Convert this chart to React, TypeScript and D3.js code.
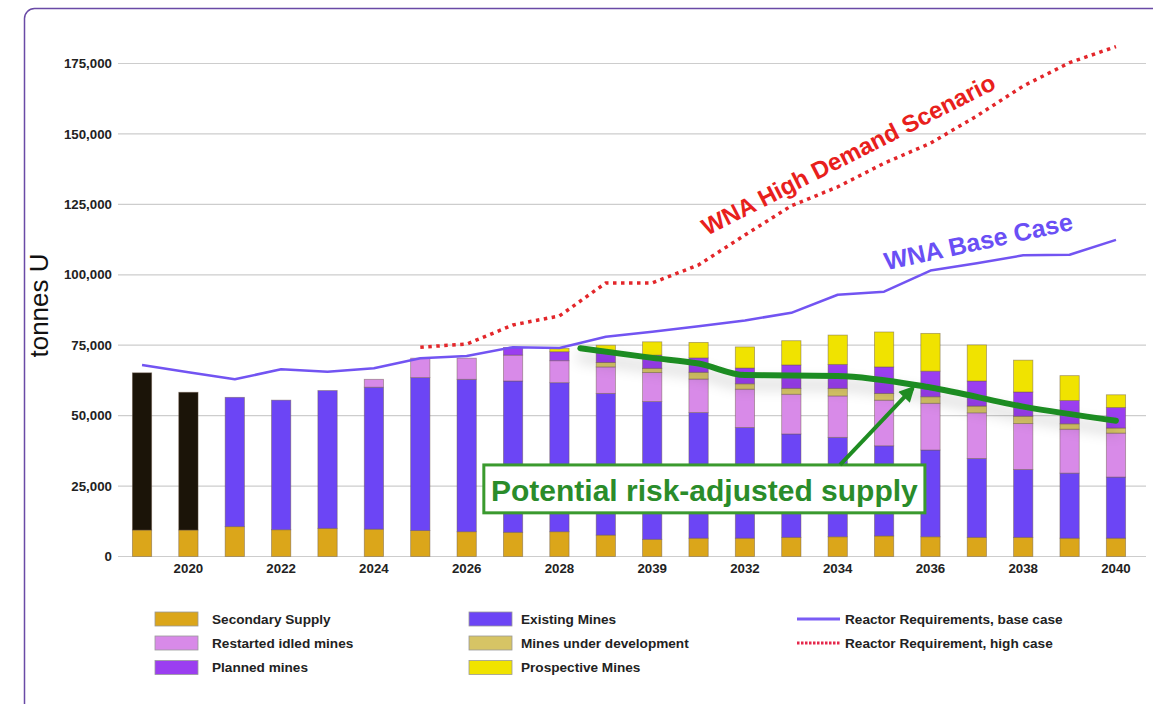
import * as d3 from "d3";

// Uranium supply vs. reactor requirements, tonnes U
const years = [
  2019, 2020, 2021, 2022, 2023, 2024, 2025, 2026, 2027, 2028, 2029,
  2030, 2031, 2032, 2033, 2034, 2035, 2036, 2037, 2038, 2039, 2040,
];

// historical production (black bars, not in the legend)
const historical = [55800, 48900, 0, 0, 0, 0, 0, 0, 0, 0, 0, 0, 0, 0, 0, 0, 0, 0, 0, 0, 0, 0];
const secondary = [
  9400, 9400, 10600, 9500, 10000, 9700, 9200, 8800, 8600, 8800, 7600,
  6100, 6500, 6500, 6800, 7000, 7300, 7000, 6800, 6800, 6500, 6500,
];
const existing = [
  0, 0, 45900, 46000, 48900, 50400, 54300, 54100, 53700, 52900, 50300,
  48900, 44600, 39300, 36700, 35300, 32000, 30800, 28000, 24100, 23100, 21700,
];
const restarted = [
  0, 0, 0, 0, 0, 2800, 6900, 7500, 9200, 7800, 9400,
  10300, 11900, 13600, 14100, 14700, 16200, 16600, 16200, 16300, 15600, 15600,
];
const underDevelopment = [
  0, 0, 0, 0, 0, 0, 0, 0, 0, 0, 1600,
  1500, 2400, 1900, 2100, 2700, 2400, 2300, 2400, 2600, 1900, 1800,
];
const planned = [
  0, 0, 0, 0, 0, 0, 0, 0, 2700, 3200, 3400,
  4700, 5100, 5600, 8300, 8500, 9400, 9100, 8900, 8600, 8300, 7300,
];
const prospective = [
  0, 0, 0, 0, 0, 0, 0, 0, 0, 1200, 2700,
  4700, 5500, 7500, 8600, 10400, 12400, 13400, 12800, 11300, 8800, 4500,
];

const baseCase = [
  68000, 65400, 62900, 66500, 65600, 66800, 70400, 71200, 74300, 74000, 78000,
  79800, 81700, 83800, 86500, 92900, 94000, 101500, 104100, 106900, 107100, 112400,
];
const highYears = [
  2025, 2026, 2027, 2028, 2029, 2030, 2031, 2032, 2033, 2034, 2035, 2036, 2037, 2038, 2039, 2040,
];
const highCase = [
  74300, 75400, 82200, 85400, 97100, 97100, 103500, 114100, 124500, 131200,
  139600, 146700, 156400, 167000, 175300, 181000,
];
const riskYears = [2028.45, 2030, 2031, 2032, 2034, 2036, 2038, 2040];
const riskSupply = [73900, 70500, 68500, 64400, 64100, 60000, 53200, 48200];

const yTicks = [0, 25000, 50000, 75000, 100000, 125000, 150000, 175000];
const xTickYears = [2020, 2022, 2024, 2026, 2028, 2030, 2032, 2034, 2036, 2038, 2040];
const xTickLabels = ["2020", "2022", "2024", "2026", "2028", "2039", "2032", "2034", "2036", "2038", "2040"];

const seriesKeys = [
  "secondary",
  "historical",
  "existing",
  "restarted",
  "underDevelopment",
  "planned",
  "prospective",
];
const colors: Record<string, string> = {
  secondary: "#dba61a",
  historical: "#1b1408",
  existing: "#6c45f5",
  restarted: "#d88ae8",
  underDevelopment: "#d6c465",
  planned: "#9b3ef0",
  prospective: "#f0e300",
};

const legendSwatches = [
  { key: "secondary", label: "Secondary Supply", col: 0, row: 0 },
  { key: "restarted", label: "Restarted idled mines", col: 0, row: 1 },
  { key: "planned", label: "Planned mines", col: 0, row: 2 },
  { key: "existing", label: "Existing Mines", col: 1, row: 0 },
  { key: "underDevelopment", label: "Mines under development", col: 1, row: 1 },
  { key: "prospective", label: "Prospective Mines", col: 1, row: 2 },
];

const W = 1153;
const H = 704;
const FONT = "'Liberation Sans', Arial, Helvetica, sans-serif";
const GREEN = "#1f8c22";

export default function App() {
  const x = d3
    .scaleBand<number>()
    .domain(years)
    .range([118, 1140])
    .paddingInner(0.584)
    .paddingOuter(0.31);
  const bw = x.bandwidth();
  const xc = d3
    .scaleLinear()
    .domain([2019, 2040])
    .range([x(2019)! + bw / 2, x(2040)! + bw / 2]);
  const y = d3.scaleLinear().domain([0, 175000]).range([556.5, 63.5]);

  const table = years.map((yr, i) => ({
    year: yr,
    secondary: secondary[i],
    historical: historical[i],
    existing: existing[i],
    restarted: restarted[i],
    underDevelopment: underDevelopment[i],
    planned: planned[i],
    prospective: prospective[i],
  }));
  const stacked = d3.stack<any>().keys(seriesKeys)(table);

  const baseLine = d3
    .line<number>()
    .x((_, i) => xc(years[i]))
    .y((d) => y(d));
  const highLine = d3
    .line<number>()
    .x((_, i) => xc(highYears[i]))
    .y((d) => y(d));
  const riskLine = d3
    .line<number>()
    .x((_, i) => xc(riskYears[i]))
    .y((d) => y(d))
    .curve(d3.curveMonotoneX);

  // annotation placed in data space
  const boxX0 = xc(2026.37);
  const boxX1 = xc(2035.88);
  const boxY0 = y(32500);
  const boxY1 = y(15500);
  const arrowFrom = [xc(2034.05), boxY0];
  const arrowTo = [xc(2035.62), y(59800)];

  const legendColX = [155, 469, 797];
  const legendTextX = [212, 521, 845];
  const legendRowY = [619, 643, 667.5];

  return (
    <svg
      width={W}
      height={H}
      style={{ position: "absolute", left: 0, top: 0, background: "#fff" }}
      fontFamily={FONT}
    >
      <defs>
        <filter id="shadow" x="-10%" y="-50%" width="120%" height="250%">
          <feGaussianBlur in="SourceAlpha" stdDeviation="7" />
          <feOffset dx="0" dy="9" result="blur" />
          <feFlood floodColor="#000" floodOpacity="0.22" />
          <feComposite in2="blur" operator="in" />
          <feMerge>
            <feMergeNode />
            <feMergeNode in="SourceGraphic" />
          </feMerge>
        </filter>
        <marker
          id="arrowhead"
          viewBox="0 0 10 10"
          refX="8"
          refY="5"
          markerWidth="18"
          markerHeight="16"
          markerUnits="userSpaceOnUse"
          orient="auto"
        >
          <path d="M0,0 L10,5 L0,10 z" fill={GREEN} />
        </marker>
      </defs>

      <rect x={24.5} y={8.5} width={1200} height={800} rx={10} fill="#fff" stroke="#6a4aa6" strokeWidth={1.5} />

      {/* grid + y ticks */}
      {yTicks.map((t) => (
        <g key={t}>
          <line x1={118} x2={1146} y1={y(t)} y2={y(t)} stroke="#cdcdcd" strokeWidth={1.2} />
          <text x={112} y={y(t)} dy="0.35em" textAnchor="end" fontSize={13.3} fontWeight={700} fill="#222">
            {d3.format(",")(t)}
          </text>
        </g>
      ))}

      {/* stacked bars */}
      {stacked.map((s) => (
        <g key={s.key} fill={colors[s.key]}>
          {s.map((d: any) => {
            const h = y(d[0]) - y(d[1]);
            if (h <= 0) return null;
            return (
              <rect
                key={d.data.year}
                x={x(d.data.year)}
                y={y(d[1])}
                width={bw}
                height={h}
                stroke="#6b5a4a"
                strokeOpacity={0.55}
                strokeWidth={0.8}
              />
            );
          })}
        </g>
      ))}

      {/* x tick labels */}
      {xTickYears.map((yr, i) => (
        <text key={yr} x={xc(yr)} y={573} textAnchor="middle" fontSize={13.3} fontWeight={700} fill="#222">
          {xTickLabels[i]}
        </text>
      ))}

      {/* reactor requirement lines */}
      <path d={baseLine(baseCase)!} fill="none" stroke="#7254f2" strokeWidth={2.5} strokeLinejoin="round" />
      <path
        d={highLine(highCase)!}
        fill="none"
        stroke="#e3262a"
        strokeWidth={3.5}
        strokeDasharray="3.5 4.5"
      />

      {/* risk-adjusted supply */}
      <path
        d={riskLine(riskSupply)!}
        fill="none"
        stroke={GREEN}
        strokeWidth={6}
        strokeLinejoin="round"
        strokeLinecap="round"
        filter="url(#shadow)"
      />

      <rect
        x={boxX0}
        y={boxY0}
        width={boxX1 - boxX0}
        height={boxY1 - boxY0}
        fill="#fff"
        stroke="#3a9a2e"
        strokeWidth={3}
      />
      <text
        x={(boxX0 + boxX1) / 2}
        y={boxY1 - 12}
        textAnchor="middle"
        fontSize={30}
        fontWeight={700}
        fill="#2a8c2a"
      >
        Potential risk-adjusted supply
      </text>
      <line
        x1={arrowFrom[0]}
        y1={arrowFrom[1]}
        x2={arrowTo[0]}
        y2={arrowTo[1]}
        stroke={GREEN}
        strokeWidth={4}
        markerEnd="url(#arrowhead)"
      />

      {/* scenario labels */}
      <text
        transform={`translate(${xc(2034.31)},${y(140000)}) rotate(-27)`}
        textAnchor="middle"
        fontSize={24}
        fontWeight={700}
        fill="#e8201c"
      >
        WNA High Demand Scenario
      </text>
      <text
        transform={`translate(${xc(2037.07)},${y(108800)}) rotate(-12.2)`}
        textAnchor="middle"
        fontSize={25}
        fontWeight={700}
        fill="#6a4ff5"
      >
        WNA Base Case
      </text>

      {/* y axis title */}
      <text transform="translate(48,305.5) rotate(-90)" textAnchor="middle" fontSize={26} fill="#111">
        tonnes U
      </text>

      {/* legend */}
      {legendSwatches.map((l) => (
        <g key={l.key}>
          <rect
            x={legendColX[l.col]}
            y={legendRowY[l.row] - 7}
            width={43}
            height={14}
            fill={colors[l.key]}
            stroke="#999"
            strokeWidth={0.8}
          />
          <text x={legendTextX[l.col]} y={legendRowY[l.row] + 4.5} fontSize={13.6} fontWeight={700} fill="#222">
            {l.label}
          </text>
        </g>
      ))}
      <line x1={legendColX[2]} x2={legendColX[2] + 43} y1={legendRowY[0]} y2={legendRowY[0]} stroke="#7a5cf5" strokeWidth={3} />
      <text x={legendTextX[2]} y={legendRowY[0] + 4.5} fontSize={13.6} fontWeight={700} fill="#222">
        Reactor Requirements, base case
      </text>
      <line
        x1={legendColX[2]}
        x2={legendColX[2] + 43}
        y1={legendRowY[1]}
        y2={legendRowY[1]}
        stroke="#e5264a"
        strokeWidth={3}
        strokeDasharray="2.5 1.5"
      />
      <text x={legendTextX[2]} y={legendRowY[1] + 4.5} fontSize={13.6} fontWeight={700} fill="#222">
        Reactor Requirement, high case
      </text>
    </svg>
  );
}
